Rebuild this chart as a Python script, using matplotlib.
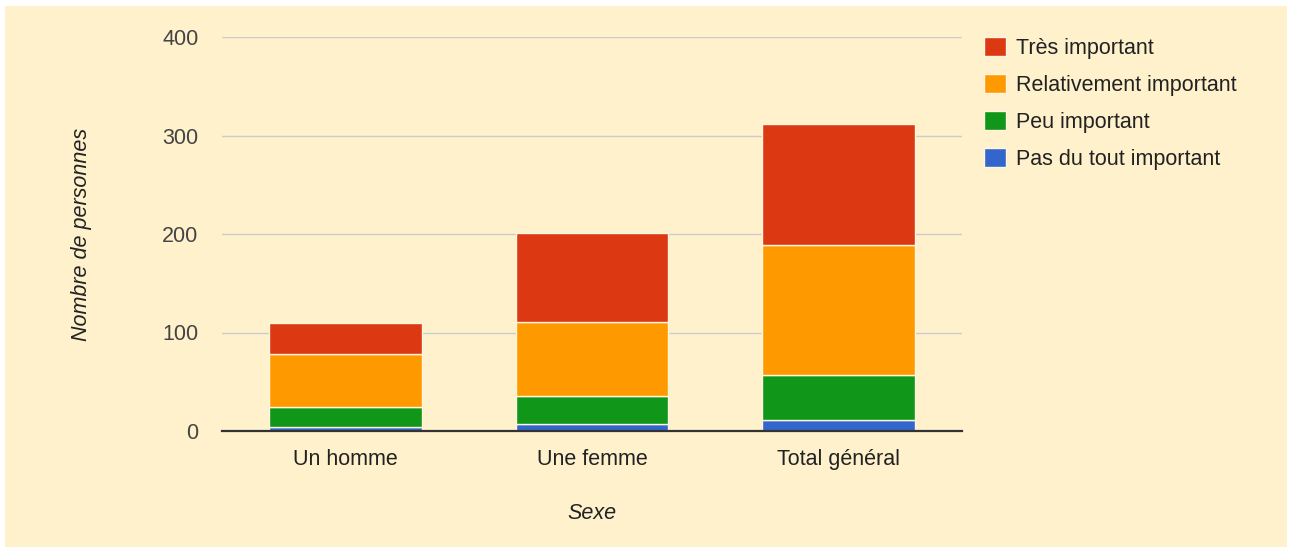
import matplotlib
matplotlib.use("Agg")

import matplotlib.pyplot as plt
import numpy as np
from matplotlib.patches import Rectangle

plt.rcParams["font.family"] = ["Liberation Sans", "DejaVu Sans"]

# Data
categories = ["Un homme", "Une femme", "Total général"]
series_names = ["Pas du tout important", "Peu important",
                "Relativement important", "Très important"]
pas_du_tout = [4, 7, 11]
peu = [20, 29, 46]
relativement = [54, 75, 132]
tres = [32, 90, 123]
yticks = [0, 100, 200, 300, 400]

colors = ["#3366cc", "#109618", "#ff9900", "#dc3912"]
bg = "#fef1cc"
fs = 15.5

fig = plt.figure(figsize=(12.89, 5.47), dpi=100, facecolor="white")
fig.patches.append(Rectangle((5 / 1289, 0), 1282 / 1289, 541 / 547,
                             transform=fig.transFigure, facecolor=bg,
                             edgecolor="none", zorder=-10))

ax = fig.add_axes([222 / 1289, (547 - 431) / 547, 740 / 1289, 394 / 547])
ax.set_facecolor(bg)

x = np.arange(len(categories))
bottom = np.zeros(len(categories))
handles = []
for name, vals, col in zip(series_names,
                           [pas_du_tout, peu, relativement, tres], colors):
    b = ax.bar(x, vals, width=0.62, bottom=bottom, color=col,
               edgecolor="#fff6e0", linewidth=1.0, label=name, zorder=3)
    handles.append(b)
    bottom += np.array(vals)

ax.set_xlim(-0.5, 2.5)
ax.set_ylim(0, 400)
ax.set_yticks(yticks)
ax.set_yticklabels([str(v) for v in yticks], fontsize=fs, color="#444444")
ax.set_xticks(x)
ax.set_xticklabels(categories, fontsize=fs, color="#222222")
ax.tick_params(axis="both", length=0)
ax.tick_params(axis="y", pad=17)
ax.tick_params(axis="x", pad=13)
ax.grid(axis="y", color="#cccccc", linewidth=1, zorder=0)

for s in ["top", "right", "left"]:
    ax.spines[s].set_visible(False)
ax.spines["bottom"].set_color("#333333")
ax.spines["bottom"].set_linewidth(1.6)
ax.spines["bottom"].set_zorder(4)

ax.set_ylabel("Nombre de personnes", fontsize=fs, style="italic",
              color="#222222")
ax.yaxis.set_label_coords(-0.176, 0.5)
ax.set_xlabel("Sexe", fontsize=fs, style="italic", color="#222222")
ax.xaxis.set_label_coords(0.5, -0.183)

# Legend (reversed order, top = Très important)
leg = fig.legend(handles[::-1], series_names[::-1], loc="upper left",
                 bbox_to_anchor=(984 / 1289, 1 - 37 / 547), frameon=False,
                 fontsize=fs, handlelength=1.0, handleheight=1.0,
                 handletextpad=0.5, labelspacing=0.7, borderpad=0,
                 borderaxespad=0)
for t in leg.get_texts():
    t.set_color("#222222")

plt.savefig("out.png", dpi=100, facecolor="white")
plt.close()
